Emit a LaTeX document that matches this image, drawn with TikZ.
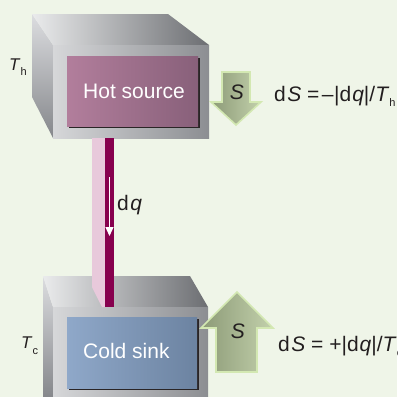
\documentclass[tikz,border=0pt]{standalone}
\usepackage{fontspec}
\setmainfont{Liberation Sans}
\usetikzlibrary{arrows.meta}

\definecolor{bgpale}{HTML}{EFF5E8}
\definecolor{topL}{HTML}{EAEBEC}
\definecolor{topR}{HTML}{6C6E72}
\definecolor{frontL}{HTML}{D6D7D9}
\definecolor{frontR}{HTML}{8C8E92}
\definecolor{sideL}{HTML}{DCDDE0}
\definecolor{sideR}{HTML}{85878B}
\definecolor{hotL}{HTML}{B27E9C}
\definecolor{hotR}{HTML}{88607A}
\definecolor{coldL}{HTML}{8FA8C9}
\definecolor{coldR}{HTML}{6C83A1}
\definecolor{panelshade}{HTML}{2A2526}
\definecolor{rodpink}{HTML}{E8C9DB}
\definecolor{roddark}{HTML}{87004E}
\definecolor{arrL}{HTML}{8C9A77}
\definecolor{arrR}{HTML}{C3D1AC}
\definecolor{arrEdge}{HTML}{D3E8B2}
\definecolor{ink}{HTML}{231F20}

% lowered small subscript in text
\newcommand\lowsub[2][5.5pt]{\raisebox{-#1}{\fontsize{11}{11}\selectfont #2}}

\begin{document}
\begin{tikzpicture}[x=1pt,y=-1pt,
  topface/.style={left color=topL, right color=topR},
  frontface/.style={left color=frontL, right color=frontR},
  sideface/.style={top color=sideL, bottom color=sideR},
  hotpanel/.style={left color=hotL, right color=hotR},
  coldpanel/.style={left color=coldL, right color=coldR},
  panelshadow/.style={fill=panelshade},
  greenarrow/.style={left color=arrL, right color=arrR, draw=arrEdge,
                     line width=1.6pt, line join=miter},
  paneltext/.style={text=white, font=\fontsize{21}{25}\selectfont,
                    anchor=base west, inner sep=0pt},
  eqlabel/.style={text=ink, font=\fontsize{21}{25}\selectfont,
                  anchor=base west, inner sep=0pt},
  tlabel/.style={text=ink, font=\fontsize{17}{20}\selectfont,
                 anchor=base west, inner sep=0pt},
  slabel/.style={text=ink, font=\fontsize{21}{25}\selectfont\itshape,
                 anchor=base, inner sep=0pt}]

\useasboundingbox (0,0) rectangle (397,397);
\fill[bgpale] (0,0) rectangle (397,397);

% hot reservoir block
\shade[sideface] (32,14) -- (53,45) -- (53,138) -- (32,97) -- cycle;
\shade[topface] (32,14) -- (168,14) -- (209,45) -- (53,45) -- cycle;
\shade[frontface] (53,45) rectangle (209,138);
\fill[panelshadow] (69,58) rectangle (200,128);
\shade[hotpanel] (67,56) rectangle (198,126);
\node[paneltext] (hot) at (83,98) {Hot source};

% cold reservoir block
\shade[sideface] (43,276) -- (53,307) -- (53,397) -- (43,397) -- cycle;
\shade[topface] (43,276) -- (190,276) -- (208,307) -- (53,307) -- cycle;
\shade[frontface] (53,307) rectangle (208,397);
\fill[panelshadow] (69,319) rectangle (199,390);
\shade[coldpanel] (67,317) rectangle (197,388);
\node[paneltext] (cold) at (83,358) {Cold sink};

% conducting rod between the blocks
\fill[rodpink] (92,138) -- (105,138) -- (105,307) -- (102,307) -- (92,287) -- cycle;
\fill[roddark] (105,138) rectangle (114,307);

% heat flow along the rod
\coordinate (qa) at (109.5,177);
\coordinate (qb) at (109.5,236);
\draw[white, line width=1.2pt, -{Triangle[width=8pt,length=9pt]}] (qa) -- (qb);
\node[eqlabel] (dq) at (117,210) {d\kern1.5pt\textit{q}};

% entropy change arrows
\shade[greenarrow] (222,72) -- (250,72) -- (250,102) -- (261,102) -- (236,125)
  -- (211,102) -- (222,102) -- cycle;
\node[slabel] (sh) at (237,99) {S};
\shade[greenarrow] (216,372) -- (257,372) -- (257,328) -- (273,328) -- (237,292)
  -- (201,328) -- (216,328) -- cycle;
\node[slabel] (sc) at (238,338) {S};

% entropy formulas
\node[eqlabel] (eqh) at (274,101)
  {d\kern1.5pt\textit{S} =\kern2.5pt–\kern0.5pt|d\kern1pt\textit{q}|/\textit{T}\lowsub{h}};
\node[eqlabel] (eqc) at (278,351)
  {d\kern1.5pt\textit{S} = +|d\kern1pt\textit{q}|/\textit{T}\lowsub{c}};

% temperatures
\node[tlabel] (th) at (9,70) {\textit{T}\lowsub[5pt]{h}};
\node[tlabel] (tc) at (21,348) {\textit{T}\lowsub[6pt]{c}};
\end{tikzpicture}
\end{document}
